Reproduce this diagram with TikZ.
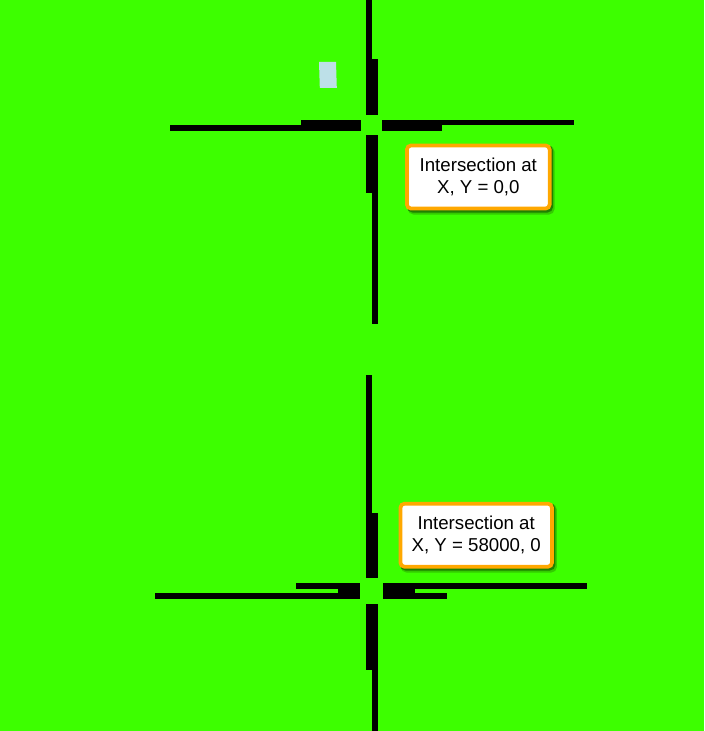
\documentclass[tikz,border=0pt]{standalone}
\usepackage{fontspec}
\setmainfont{Liberation Sans}
\usepackage{tikz}
\definecolor{fieldgreen}{HTML}{3DFF00}
\definecolor{calloutorange}{HTML}{FFA800}
\definecolor{markerblue}{HTML}{BDE0E8}
\definecolor{shadowgreen}{HTML}{1F8000}
\definecolor{shadowpale}{HTML}{33CC00}

\begin{document}
\begin{tikzpicture}[x=0.75pt, y=-0.75pt]
        % Styles for the road pieces and the labels
        \tikzset{
            road/.style={fill=black},
            callout/.style={
                draw=calloutorange, fill=white, line width=2.8pt, rounded corners=3pt,
                align=center, inner sep=0pt, font=\fontsize{14}{16.5}\selectfont,
            },
            softedge/.style={rounded corners=4pt},
        }

        % Background fixes the size of the page
        \fill[fieldgreen] (0, 0) rectangle (704, 731);

        % Small marker near the upper crossing
        \fill[markerblue] (319, 62) -- (336, 62) -- (336.8, 88) -- (319.8, 88) -- cycle;

        % Upper crossing
        \begin{scope}[road]
            \fill (366, 0) rectangle (371.5, 59);
            \fill (366, 59) rectangle (377.5, 115);
            \fill (366, 135.5) rectangle (377.5, 193);
            \fill (371.5, 193) rectangle (377.5, 324);

            \fill (169.5, 125.3) rectangle (301, 130.7);
            \fill (301, 120) rectangle (361, 130.7);
            \fill (382, 120) rectangle (442, 130.7);
            \fill (442, 120) rectangle (573.5, 125.3);
        \end{scope}

        % Lower crossing
        \begin{scope}[road]
            \fill (366, 375) rectangle (371.7, 513);
            \fill (366, 513) rectangle (377.7, 577.7);
            \fill (365.5, 604.3) rectangle (377.7, 670);
            \fill (371.7, 670) rectangle (377.7, 731);

            \fill (155, 592.7) rectangle (338.3, 599);
            \fill (296, 583.3) rectangle (338.3, 589.3);
            \fill (338.3, 583.3) rectangle (360.3, 599);
            \fill (383, 583.3) rectangle (415, 599);
            \fill (415, 583.3) rectangle (587.3, 589.3);
            \fill (415, 592.7) rectangle (447, 599);
        \end{scope}

        % Shadows under the labels
        \begin{scope}[softedge]
            \fill[shadowpale] (408, 146) rectangle (554.5, 214.5);
            \fill[shadowgreen] (407, 145) rectangle (553, 212.5);
            \fill[shadowpale] (401, 504) rectangle (556.8, 572.5);
            \fill[shadowgreen] (400, 503) rectangle (555.3, 570.5);
        \end{scope}

        % Labels
        \node[callout, minimum width=107pt, minimum height=47.3pt] (upperlabel) at (478.3, 177)
            {Intersection at\\X, Y = 0,0};
        \node[callout, minimum width=113.6pt, minimum height=47.3pt] (lowerlabel) at (476.2, 535.2)
            {Intersection at\\X, Y = 58000, 0};

\end{tikzpicture}
\end{document}
